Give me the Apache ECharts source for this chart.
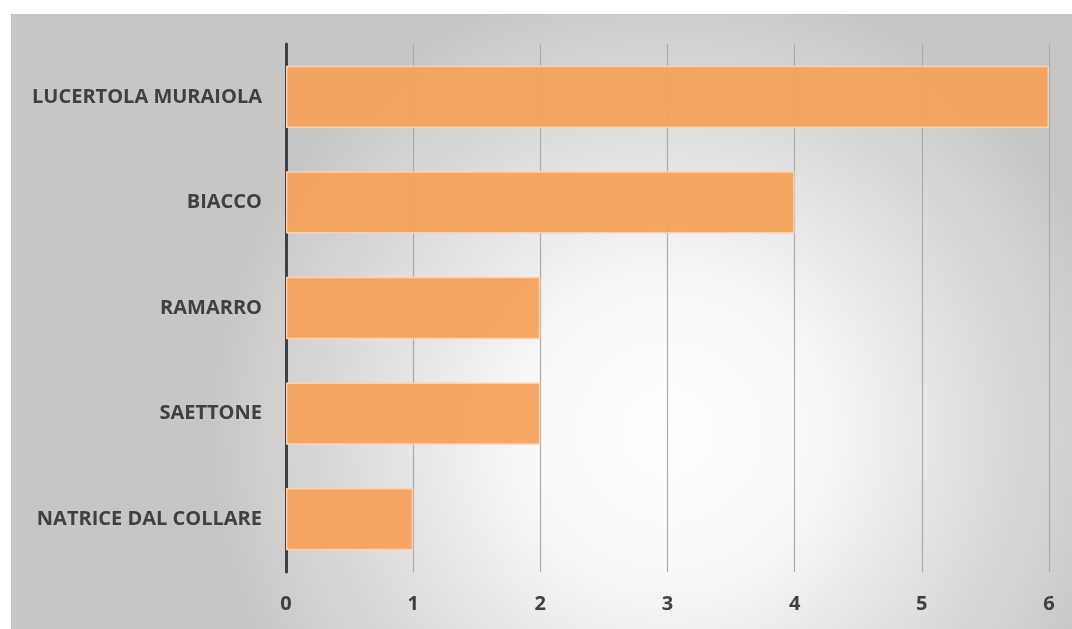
<!DOCTYPE html>
<html><head><meta charset="utf-8">
<script src="https://cdn.jsdelivr.net/npm/echarts@6/dist/echarts.min.js"></script>
<style>
html,body{margin:0;padding:0;background:#fff;overflow:hidden;width:1072px;height:629px;}
#c{position:absolute;left:11px;top:14px;width:1061px;height:615px;border-top:1px solid #c4c4c4;border-left:1px solid #c4c4c4;box-sizing:border-box;}
</style></head><body>
<div id="c"></div>
<script>
const categories = ['LUCERTOLA MURAIOLA','BIACCO','RAMARRO','SAETTONE','NATRICE DAL COLLARE'];
const values = [6,4,2,2,1];
const xTicks = [0,1,2,3,4,5,6];

const chart = echarts.init(document.getElementById('c'), null, {renderer:'canvas'});
chart.setOption({
  backgroundColor: new echarts.graphic.RadialGradient(0.62, 0.68, 0.75, [
    {offset:0, color:'#ffffff'},
    {offset:0.3, color:'#f9f9f9'},
    {offset:1, color:'#c6c6c6'}
  ]),
  animation:false,
  grid:{left:274, top:29, right:23, bottom:57, containLabel:false},
  xAxis:{
    type:'value', min:xTicks[0], max:xTicks[xTicks.length-1], interval:1,
    axisLine:{show:false}, axisTick:{show:false},
    splitLine:{show:true, lineStyle:{color:'#ababab', width:1.2}},
    axisLabel:{color:'#404040', fontFamily:'Open Sans', fontWeight:'bold', fontSize:20, margin:22,
      formatter:(v)=>String(v)}
  },
  yAxis:{
    type:'category', data:categories, inverse:true,
    axisLine:{show:true, lineStyle:{color:'#404040', width:3}},
    axisTick:{show:false},
    axisLabel:{color:'#404040', fontFamily:'Open Sans', fontWeight:'bold', fontSize:20, margin:24}
  },
  series:[{
    type:'bar', data:values, barCategoryGap:'41%',
    itemStyle:{color:'rgba(245,162,92,0.95)', borderColor:'#fbd2ad', borderWidth:1.5},
    silent:true
  }]
});
</script></body></html>
